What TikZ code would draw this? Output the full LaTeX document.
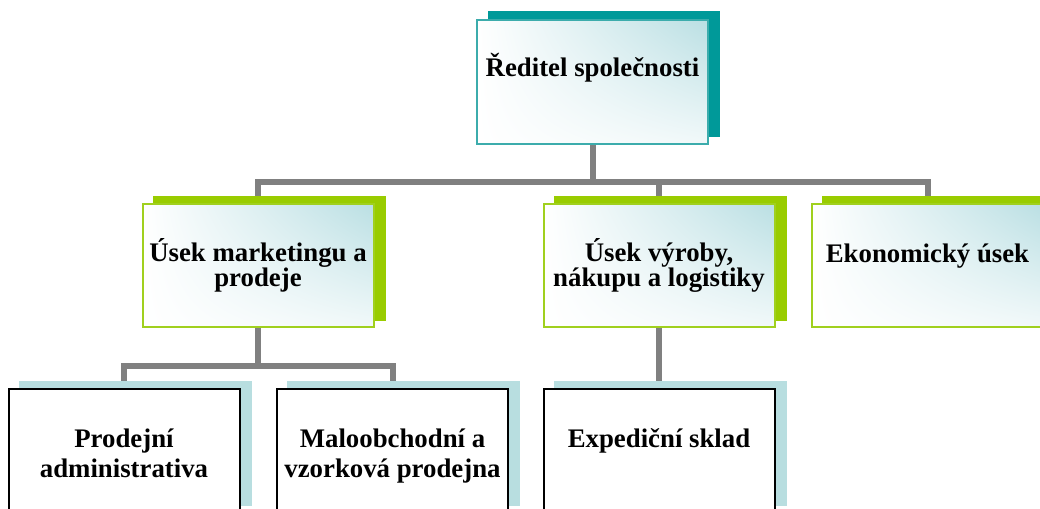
\documentclass[tikz,border=0pt]{standalone}
\usepackage{fontspec}
\setmainfont{Liberation Serif}
\usetikzlibrary{calc,shadings}
\definecolor{linegray}{RGB}{128,128,128}
\definecolor{tealsh}{RGB}{0,153,153}
\definecolor{greensh}{RGB}{153,204,0}
\definecolor{bluesh}{RGB}{184,222,224}
\definecolor{gblue}{RGB}{186,223,227}
\definecolor{tealbd}{RGB}{60,172,172}
\definecolor{greenbd}{RGB}{160,208,30}
\pgfdeclarelayer{bg}
\pgfdeclarelayer{sh}
\pgfsetlayers{bg,sh,main}
\begin{document}
\begin{tikzpicture}[x=1pt,y=-1pt,
  frontbox/.style={rectangle, inner sep=0pt, minimum width=231pt, minimum height=123pt, line width=2pt},
  gradbox/.style={frontbox, upper right=gblue, upper left=white, lower left=white, lower right=gblue!20},
  topbox/.style={gradbox, draw=tealbd, minimum height=124pt},
  midbox/.style={gradbox, draw=greenbd},
  lowbox/.style={frontbox, draw=black, fill=white},
  lbl/.style={font=\fontsize{26.8}{25}\selectfont\bfseries, align=center, inner sep=0pt, anchor=base},
  lbllow/.style={lbl, font=\fontsize{26.8}{30}\selectfont\bfseries},
  conn/.style={draw=linegray, line width=6pt, line join=miter, line cap=rect}]
\useasboundingbox (0,0) rectangle (1040,508);

% front boxes
\node[topbox] (top) at (592.5,82) {};
\node[midbox] (mkt) at (258,265.5) {};
\node[midbox] (vyr) at (659,265.5) {};
\node[midbox] (eko) at (927.5,265.5) {};
\node[lowbox] (prod) at (124,450.5) {};
\node[lowbox] (malo) at (392.5,450.5) {};
\node[lowbox] (exp) at (659,450.5) {};

% shadows
\begin{pgfonlayer}{sh}
\fill[tealsh] ($(top.north west)+(12,-8)$) rectangle ($(top.south east)+(11,-8)$);
\foreach \b in {mkt,vyr,eko}{
  \fill[greensh] ($(\b.north west)+(11,-7)$) rectangle ($(\b.south east)+(11,-7)$);
}
\foreach \b in {prod,malo,exp}{
  \fill[bluesh] ($(\b.north west)+(11,-7)$) rectangle ($(\b.south east)+(11,-7)$);
}
\end{pgfonlayer}

% connectors
\coordinate (bar1) at (0,182);
\coordinate (bar2) at (0,366);
\begin{pgfonlayer}{bg}
\draw[conn] (top.center) -- (top.center |- bar1);
\draw[conn] (mkt.center) |- (eko.center |- bar1) -- (eko.center);
\draw[conn] (vyr.center) -- (vyr.center |- bar1);
\draw[conn] (prod.center) |- (malo.center |- bar2) -- (malo.center);
\draw[conn] (mkt.center) -- (mkt.center |- bar2);
\draw[conn] (vyr.center) -- (exp.center);
\end{pgfonlayer}

% labels (multi-line: anchor base = last line)
\node[lbl] (ttop) at ($(top.center)+(0,-5)$) {Ředitel společnosti};
\node[lbl] (tmkt) at ($(mkt.center)+(0,20.5)$) {Úsek marketingu a\\prodeje};
\node[lbl] (tvyr) at ($(vyr.center)+(0,20.5)$) {Úsek výroby,\\nákupu a logistiky};
\node[lbl] (teko) at ($(eko.center)+(0,-3.5)$) {Ekonomický úsek};
\node[lbllow] (tprod) at ($(prod.center)+(0,26.5)$) {Prodejní\\administrativa};
\node[lbllow] (tmalo) at ($(malo.center)+(0,26.5)$) {Maloobchodní a\\vzorková prodejna};
\node[lbllow] (texp) at ($(exp.center)+(0,-3.5)$) {Expediční sklad};
\end{tikzpicture}
\end{document}
